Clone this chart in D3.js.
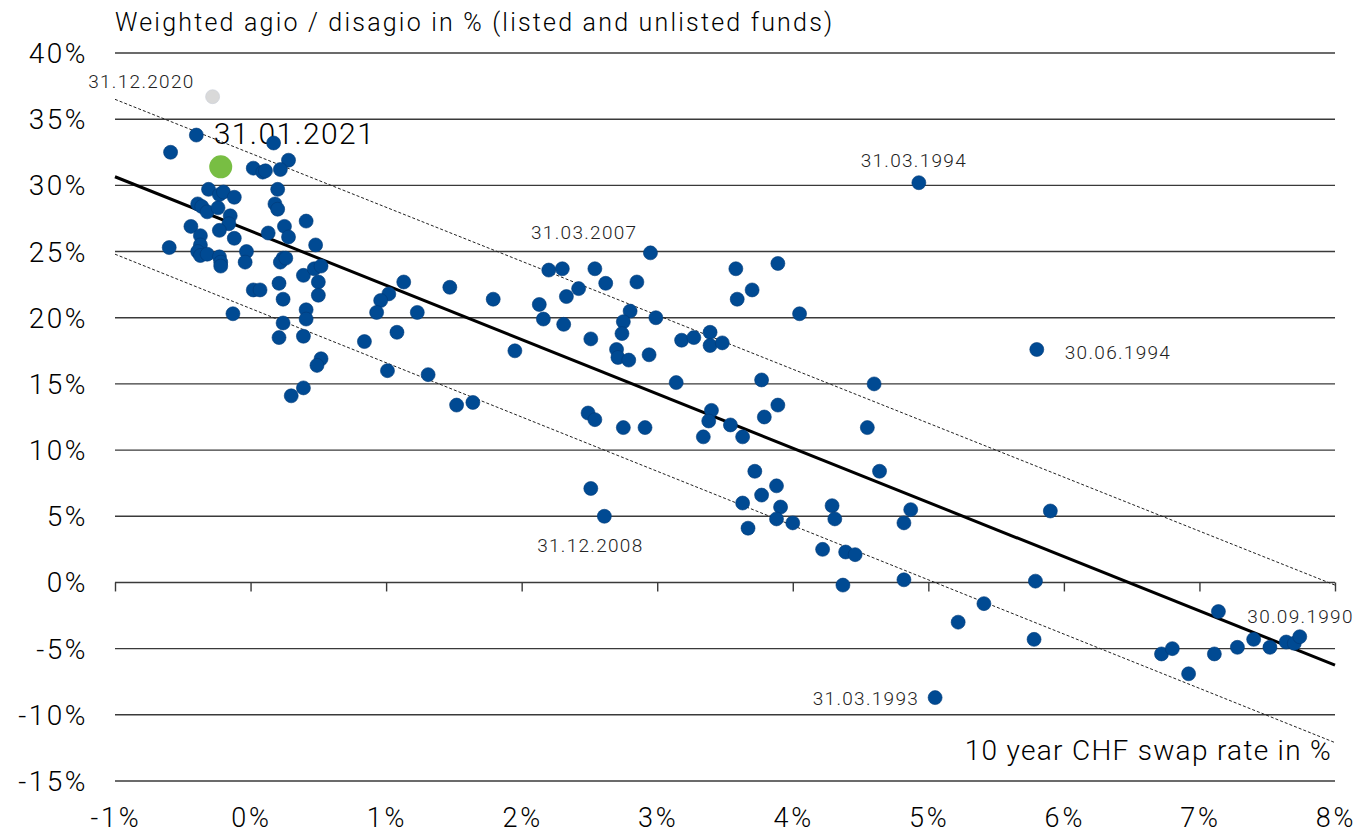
<script src="https://d3js.org/d3.v7.min.js"></script>

<html>
<head>
<style>
    body { margin: 0; background: #fff; }
    text { font-family: Roboto, "Liberation Sans", Arial, sans-serif; font-weight: 300; fill: #000; }
</style>
</head>
<body>
<div id="myPlot"></div>
</body>
<script>

    const width = 1361;
    const height = 836;
    const margin = {top: 53, right: 26, bottom: 55, left: 115};

    // 10y CHF swap rate (%) and weighted agio (%), one entry per month-end
    const swapRate = [
        -0.40, -0.59, 0.17, 0.28, 0.02, 0.09, 0.11, 0.22, 0.20, 0.18, 0.20,
        -0.31, -0.23, -0.20, -0.12, -0.39, -0.36, -0.32, -0.24, -0.44, -0.37,
        -0.37, -0.39, -0.37, -0.32, -0.15, -0.16, -0.23, -0.12, -0.60, -0.03,
        -0.04, -0.23, -0.22, -0.22, 0.13, 0.25, 0.28, 0.41, 0.48, 0.24, 0.22,
        0.26, 0.39, 0.47, 0.52, 0.50, 0.50, 0.21, 0.24, 0.02, 0.07, -0.13,
        0.41, 0.41, 0.24, 0.21, 0.39, 0.52, 0.49, 0.39, 0.30,
        1.13, 1.02, 0.96, 0.93, 1.23, 1.47, 1.08, 0.84, 1.01, 1.31, 1.52, 1.64,
        2.95, 2.20, 2.30, 2.54, 2.62, 2.85, 2.42, 2.33, 1.79, 2.13, 2.16, 2.31,
        2.80, 2.75, 2.74, 2.99, 2.51, 2.70, 2.71, 2.79, 2.94, 1.95, 3.18, 3.27,
        3.39, 3.39, 3.48, 3.58, 3.89, 3.59, 3.70, 4.05, 3.14, 3.77, 4.60, 4.55,
        3.89, 3.79, 3.40, 3.38, 3.54, 3.34, 3.63, 2.49, 2.54, 2.75, 2.91, 2.51,
        2.61, 3.72, 3.88, 3.77, 3.63, 3.91, 3.88, 4.00, 3.67, 4.29, 4.31, 4.64,
        4.87, 4.82, 4.22, 4.39, 4.46,
        5.79, 5.90, 5.41, 5.22, 5.78, 5.05, 4.82, 4.37, 4.93, 5.80,
        7.14, 6.72, 6.80, 6.92, 7.11, 7.28, 7.40, 7.52, 7.64, 7.70, 7.74
    ];
    const agio = [
        33.8, 32.5, 33.2, 31.9, 31.3, 31.0, 31.1, 31.2, 29.7, 28.6, 28.2,
        29.7, 29.3, 29.5, 29.1, 28.6, 28.4, 28.0, 28.3, 26.9, 26.2,
        25.5, 25.0, 24.7, 24.8, 27.7, 27.1, 26.6, 26.0, 25.3, 25.0,
        24.2, 24.6, 24.2, 23.9, 26.4, 26.9, 26.1, 27.3, 25.5, 24.5, 24.2,
        24.5, 23.2, 23.7, 23.9, 22.7, 21.7, 22.6, 21.4, 22.1, 22.1, 20.3,
        20.6, 19.9, 19.6, 18.5, 18.6, 16.9, 16.4, 14.7, 14.1,
        22.7, 21.8, 21.3, 20.4, 20.4, 22.3, 18.9, 18.2, 16.0, 15.7, 13.4, 13.6,
        24.9, 23.6, 23.7, 23.7, 22.6, 22.7, 22.2, 21.6, 21.4, 21.0, 19.9, 19.5,
        20.5, 19.7, 18.8, 20.0, 18.4, 17.6, 17.0, 16.8, 17.2, 17.5, 18.3, 18.5,
        18.9, 17.9, 18.1, 23.7, 24.1, 21.4, 22.1, 20.3, 15.1, 15.3, 15.0, 11.7,
        13.4, 12.5, 13.0, 12.2, 11.9, 11.0, 11.0, 12.8, 12.3, 11.7, 11.7, 7.1,
        5.0, 8.4, 7.3, 6.6, 6.0, 5.7, 4.8, 4.5, 4.1, 5.8, 4.8, 8.4,
        5.5, 4.5, 2.5, 2.3, 2.1,
        0.1, 5.4, -1.6, -3.0, -4.3, -8.7, 0.2, -0.2, 30.2, 17.6,
        -2.2, -5.4, -5.0, -6.9, -5.4, -4.9, -4.3, -4.9, -4.5, -4.6, -4.1
    ];

    // previous month (grey) and latest month (green)
    const prevPoint = [-0.28, 36.7];
    const lastPoint = [-0.22, 31.4];

    // fitted line and band, values at x = -1% and x = 8%
    const fitX = [-1, 8];
    const fitMid = [30.65, -6.25];
    const fitUpper = [36.5, -0.2];
    const fitLower = [24.8, -12.1];

    const xTicks = [-1, 0, 1, 2, 3, 4, 5, 6, 7, 8];
    const yTicks = [-15, -10, -5, 0, 5, 10, 15, 20, 25, 30, 35, 40];

    // dated labels: date, swap rate, agio of the labelled point
    const dateLabels = ["31.12.2020", "31.03.2007", "31.12.2008", "31.03.1994", "30.06.1994", "30.09.1990", "31.03.1993"];
    const dateX = [-0.28, 2.95, 2.61, 4.93, 5.80, 7.74, 5.05];
    const dateY = [36.7, 24.9, 5.0, 30.2, 17.6, -4.1, -8.7];
    // label placement relative to the point
    const dateAnchor = ["end", "end", "middle", "middle", "start", "end", "end"];
    const dateDx = [-18, -13, -14, -5, 28, 54, -16];
    const dateDy = [-9, -14, 36, -16, 10, -14, 7];

    const svg = d3.select("#myPlot").append("svg")
        .attr("width", width)
        .attr("height", height);

    const x = d3.scaleLinear().domain([-1, 8]).range([margin.left, width - margin.right]);
    const y = d3.scaleLinear().domain([-15, 40]).range([height - margin.bottom, margin.top]);

    // grid lines
    svg.append("g")
        .selectAll("line").data(yTicks).enter()
        .append("line")
        .attr("x1", x(-1)).attr("x2", x(8))
        .attr("y1", d => y(d)).attr("y2", d => y(d))
        .attr("stroke", "#3a3a3a")
        .attr("stroke-width", 1.4);

    // y labels
    svg.append("g")
        .selectAll("text").data(yTicks).enter()
        .append("text")
        .attr("x", 88)
        .attr("y", d => y(d) + 10)
        .attr("text-anchor", "end")
        .style("font-size", "28px")
        .style("letter-spacing", "2.5px")
        .text(d => d + "%");

    // x axis on the zero line
    const xAxis = d3.axisBottom(x).tickValues(xTicks).tickSize(9).tickFormat("");
    const gx = svg.append("g")
        .attr("transform", "translate(0," + y(0) + ")")
        .call(xAxis);
    gx.select(".domain").remove();
    gx.selectAll("line").attr("stroke", "#3a3a3a").attr("stroke-width", 1.4);

    svg.append("g")
        .selectAll("text").data(xTicks).enter()
        .append("text")
        .attr("x", d => x(d) + 1)
        .attr("y", 827)
        .attr("text-anchor", "middle")
        .style("font-size", "27px")
        .style("letter-spacing", "2.8px")
        .text(d => d + "%");

    // titles
    svg.append("text")
        .attr("x", 115).attr("y", 31)
        .style("font-size", "25px")
        .style("letter-spacing", "2.2px")
        .text("Weighted agio / disagio in % (listed and unlisted funds)");

    svg.append("text")
        .attr("x", 1332).attr("y", 760)
        .attr("text-anchor", "end")
        .style("font-size", "28px")
        .style("letter-spacing", "1.3px")
        .text("10 year CHF swap rate in %");

    // band and fit
    const line = d3.line().x(d => x(d[0])).y(d => y(d[1]));
    [fitUpper, fitLower].forEach(arr => {
        svg.append("path")
            .datum(fitX.map((v, i) => [v, arr[i]]))
            .attr("d", line)
            .attr("fill", "none")
            .attr("stroke", "#222")
            .attr("stroke-width", 1)
            .attr("stroke-dasharray", "3,2");
    });
    svg.append("path")
        .datum(fitX.map((v, i) => [v, fitMid[i]]))
        .attr("d", line)
        .attr("fill", "none")
        .attr("stroke", "#000")
        .attr("stroke-width", 3);

    // date labels
    svg.append("g")
        .selectAll("text").data(dateLabels).enter()
        .append("text")
        .attr("x", (d, i) => x(dateX[i]) + dateDx[i])
        .attr("y", (d, i) => y(dateY[i]) + dateDy[i])
        .attr("text-anchor", (d, i) => dateAnchor[i])
        .style("font-size", "19px")
        .style("letter-spacing", "1.3px")
        .style("fill", "#222")
        .text(d => d);

    svg.append("text")
        .attr("x", x(lastPoint[0]) - 7)
        .attr("y", y(lastPoint[1]) - 23)
        .style("font-size", "30px")
        .style("letter-spacing", "1.4px")
        .text("31.01.2021");

    // points
    const pts = swapRate.map((v, i) => [v, agio[i]]);
    svg.append("g")
        .selectAll("circle").data(pts).enter()
        .append("circle")
        .attr("cx", d => x(d[0]))
        .attr("cy", d => y(d[1]))
        .attr("r", 7)
        .style("fill", "#004a93")
        .style("stroke", "#003a78")
        .style("stroke-width", 0.6);

    svg.append("circle")
        .attr("cx", x(prevPoint[0])).attr("cy", y(prevPoint[1]))
        .attr("r", 7)
        .style("fill", "#d9d9d9")
        .style("stroke", "#c8cdd6")
        .style("stroke-width", 0.6);

    svg.append("circle")
        .attr("cx", x(lastPoint[0])).attr("cy", y(lastPoint[1]))
        .attr("r", 11.5)
        .style("fill", "#78be43");

</script>
</html>
